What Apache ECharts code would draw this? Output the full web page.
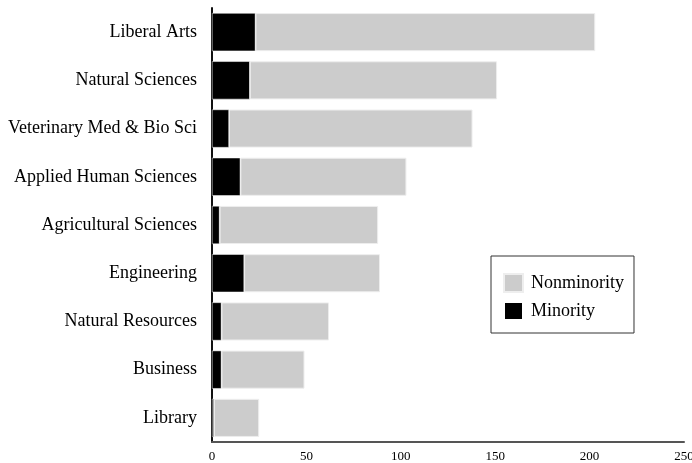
<!DOCTYPE html>
<html><head><meta charset="utf-8">
<script src="https://cdn.jsdelivr.net/npm/echarts@6/dist/echarts.min.js"></script>
<style>html,body{margin:0;padding:0;background:#fff}#c{width:692px;height:463px}</style>
</head><body><div id="c"></div>
<script>
const categories = ["Liberal Arts","Natural Sciences","Veterinary Med & Bio Sci","Applied Human Sciences","Agricultural Sciences","Engineering","Natural Resources","Business","Library"];
const minority = [23, 20, 9, 15, 4, 17, 5, 5, 1];
const nonminority = [180, 131, 129, 88, 84, 72, 57, 44, 24];
const xTicks = [0, 50, 100, 150, 200, 250];

const font = '"Liberation Serif", "Times New Roman", serif';
const chart = echarts.init(document.getElementById('c'), null, {renderer: 'canvas'});
chart.setOption({
  animation: false,
  grid: {left: 212, right: 8, top: 8, bottom: 21, containLabel: false, outerBoundsMode: 'none'},
  legend: {
    orient: 'vertical', left: 491, top: 256,
    data: ['Nonminority', 'Minority'],
    itemWidth: 19, itemHeight: 18, itemGap: 8,
    padding: [17, 10, 12, 12],
    borderColor: '#333', borderWidth: 1,
    textStyle: {fontFamily: font, fontSize: 18, lineHeight: 18, color: '#000', padding: [0, 0, 0, 3]},
    icon: 'rect'
  },
  xAxis: {
    type: 'value', min: xTicks[0], max: xTicks[xTicks.length - 1], interval: 50,
    splitLine: {show: false},
    axisLine: {show: true, lineStyle: {color: '#555', width: 2}},
    axisTick: {show: false},
    axisLabel: {fontFamily: font, fontSize: 13, color: '#000', margin: 8}
  },
  yAxis: {
    type: 'category', data: categories, inverse: true,
    axisLine: {show: true, lineStyle: {color: '#111', width: 2}},
    axisTick: {show: false},
    axisLabel: {fontFamily: font, fontSize: 18, color: '#000', margin: 15}
  },
  series: [
    {name: 'Minority', type: 'bar', stack: 't', data: minority, barCategoryGap: '21%',
     itemStyle: {color: '#000', borderColor: '#fff', borderWidth: 0.5}},
    {name: 'Nonminority', type: 'bar', stack: 't', data: nonminority, barCategoryGap: '21%',
     itemStyle: {color: '#cccccc', borderColor: '#eeeeee', borderWidth: 1}}
  ]
});
</script></body></html>
